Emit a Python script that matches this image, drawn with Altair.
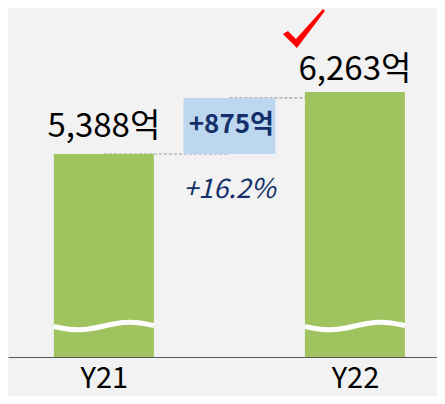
import altair as alt
import pandas as pd

# ---- data ----
categories = ["Y21", "Y22"]
values = [5388, 6263]          # 억
positions = [0, 1]
value_labels = ["5,388억", "6,263억"]
delta_label = "+875억"
pct_label = "+16.2%"

# broken (non-zero) value axis, as in the reference
y_min, y_max = 2523, 7448
x_min, x_max = -0.362, 1.307

FONT = "Noto Sans CJK KR"
GREEN = "#9fc35f"
NAVY = "#14306b"
BOX = "#bdd7ee"
DASH = "#9a9a9a"

bars = pd.DataFrame({"cat": categories, "pos": positions, "value": values, "label": value_labels})
mid = (positions[0] + positions[1]) / 2
delta = pd.DataFrame({"pos": [mid], "lo": [values[0]], "hi": [values[1]],
                      "mid": [(values[0] + values[1]) / 2],
                      "label": [delta_label], "pct": [pct_label]})
rules = pd.DataFrame({"p0": [positions[0], mid], "p1": [mid, positions[1]], "v": values})

xs = alt.Scale(domain=[x_min, x_max], nice=False, zero=False)
ys = alt.Scale(domain=[y_min, y_max], nice=False, zero=False)
label_expr = " : ".join(
    f"datum.value == {p} ? '{c}'" for p, c in zip(positions, categories)
) + " : ''"
x_axis = alt.Axis(values=positions, labelExpr=label_expr, grid=False, ticks=False,
                  tickSize=0, domainColor="#595959", domainWidth=1, title=None,
                  labelFont=FONT, labelFontSize=29, labelColor="#000000",
                  labelBaseline="alphabetic", labelPadding=30)

base_bars = alt.Chart(bars)

rule_left = alt.Chart(rules.iloc[[0]]).mark_rule(
    color=DASH, strokeDash=[3, 2], strokeWidth=1.2
).encode(x=alt.X("p0:Q", scale=xs, axis=x_axis), x2="p1:Q", y=alt.Y("v:Q", scale=ys, axis=None))

rule_right = alt.Chart(rules.iloc[[1]]).mark_rule(
    color=DASH, strokeDash=[3, 2], strokeWidth=1.2, yOffset=6
).encode(x=alt.X("p0:Q", scale=xs), x2="p1:Q", y=alt.Y("v:Q", scale=ys))

bar_layer = base_bars.mark_bar(width=100, color=GREEN).encode(
    x=alt.X("pos:Q", scale=xs),
    y=alt.Y("value:Q", scale=ys),
    y2=alt.datum(y_min),
)

wave_path = "M-1,0.01 C-0.6,0.1 -0.4,0.1 0,0 C0.4,-0.1 0.6,-0.1 1,-0.01"
wave = base_bars.mark_point(shape=wave_path, size=10000, filled=False, stroke="#ffffff",
                            strokeWidth=5, opacity=1, yOffset=-31).encode(
    x=alt.X("pos:Q", scale=xs),
    y=alt.Y("y:Q", scale=ys),
).transform_calculate(y=str(y_min))

box = alt.Chart(delta).mark_bar(width=92, color=BOX, yOffset=6).encode(
    x=alt.X("pos:Q", scale=xs), y=alt.Y("hi:Q", scale=ys), y2="lo:Q"
)
box_text = alt.Chart(delta).mark_text(font=FONT, fontSize=26, fontWeight="bold", color=NAVY,
                                      baseline="middle", dy=2, dx=2).encode(
    x=alt.X("pos:Q", scale=xs), y=alt.Y("mid:Q", scale=ys), text="label:N"
)
pct_text = alt.Chart(delta).mark_text(font=FONT, fontSize=27, fontStyle="italic", color=NAVY,
                                      baseline="alphabetic", dy=44).encode(
    x=alt.X("pos:Q", scale=xs), y=alt.Y("lo:Q", scale=ys), text="pct:N"
)

lab1 = alt.Chart(bars.iloc[[0]]).mark_text(font=FONT, fontSize=33, color="#000000",
                                           baseline="alphabetic", dy=-17).encode(
    x=alt.X("pos:Q", scale=xs), y=alt.Y("value:Q", scale=ys), text="label:N"
)
lab2 = alt.Chart(bars.iloc[[1]]).mark_text(font=FONT, fontSize=33, color="#000000",
                                           baseline="alphabetic", dy=-12).encode(
    x=alt.X("pos:Q", scale=xs), y=alt.Y("value:Q", scale=ys), text="label:N"
)

check_path = "M-1.05,0.25 L-0.8,0.1 L-0.4,0.5 L0.95,-1 L1.05,-0.9 L-0.35,0.95 Z"
check = alt.Chart(bars.iloc[[1]]).mark_point(shape=check_path, size=1600, filled=True,
                                              color="#ff0000", opacity=1,
                                              xOffset=-51, yOffset=-63).encode(
    x=alt.X("pos:Q", scale=xs), y=alt.Y("value:Q", scale=ys)
)

chart = alt.layer(
    rule_left, rule_right, bar_layer, wave, box, box_text, pct_text, lab1, lab2, check
).properties(
    width=429, height=349,
    background="#f2f2f2",
    padding={"left": 0, "right": 0, "top": 0, "bottom": 39},
    autosize=alt.AutoSizeParams(type="none"),
).configure_view(stroke=None)

chart.save("out.html", embed_options={"renderer": "svg", "actions": False})
